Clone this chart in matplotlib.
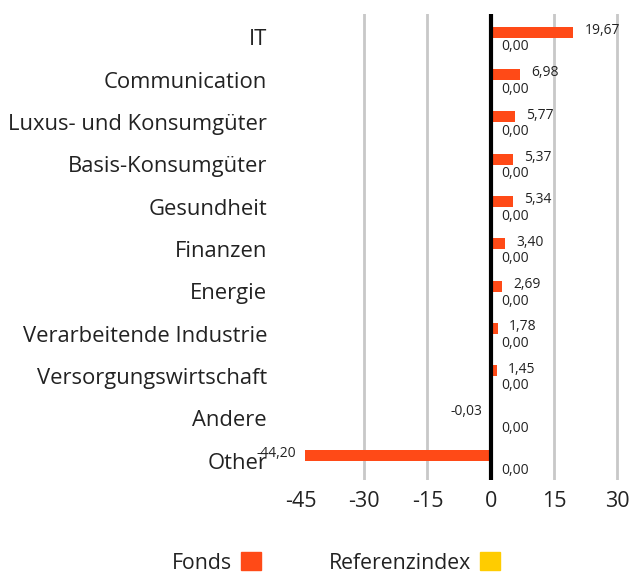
import numpy as np
import matplotlib.pyplot as plt
from matplotlib.patches import Patch

plt.rcParams['font.family'] = ['Open Sans', 'DejaVu Sans']

categories = ['IT', 'Communication', 'Luxus- und Konsumgüter', 'Basis-Konsumgüter',
              'Gesundheit', 'Finanzen', 'Energie', 'Verarbeitende Industrie',
              'Versorgungswirtschaft', 'Andere', 'Other']
fonds = [19.67, 6.98, 5.77, 5.37, 5.34, 3.40, 2.69, 1.78, 1.45, -0.03, -44.20]
referenz = [0.00] * 11
xticks = [-45, -30, -15, 0, 15, 30]

orange = '#FF4A17'
yellow = '#FFCC00'

fig = plt.figure(figsize=(6.3, 5.78), dpi=100)
ax = fig.add_axes([0.478, 0.17, 0.508, 0.806])

y = np.arange(len(categories))
ax.barh(y - 0.12, fonds, height=0.26, color=orange, zorder=3)
ax.barh(y + 0.15, referenz, height=0.26, color=yellow, zorder=3)

fmt = lambda v: f'{v:.2f}'.replace('.', ',')
for yi, v in zip(y, fonds):
    if v >= 0:
        ax.annotate(fmt(v), (v, yi - 0.16), xytext=(8, 0), textcoords='offset points',
                    ha='left', va='center', fontsize=10, color='#222222')
    else:
        ax.annotate(fmt(v), (v, yi - 0.16), xytext=(-6, 0), textcoords='offset points',
                    ha='right', va='center', fontsize=10, color='#222222')
for yi, v in zip(y, referenz):
    ax.annotate(fmt(v), (v, yi + 0.23), xytext=(8, 0), textcoords='offset points',
                ha='left', va='center', fontsize=10, color='#222222')

# grid lines and zero line
for t in xticks:
    if t not in (-45, 0):
        ax.axvline(t, color='#C8C8C8', lw=2, zorder=1)
ax.axvline(0, color='black', lw=3, zorder=4)

ax.set_xlim(-45, 31)
ax.set_ylim(10.45, -0.55)
ax.set_xticks(xticks)
ax.set_xticklabels([str(t) for t in xticks], fontsize=15.5, color='#222222')
ax.set_yticks(y)
ax.set_yticklabels(categories, fontsize=15.8, color='#222222')
ax.tick_params(axis='both', length=0)
ax.tick_params(axis='y', pad=24.5)
ax.tick_params(axis='x', pad=8)
for s in ax.spines.values():
    s.set_visible(False)

handles = [Patch(color=orange, label='Fonds'), Patch(color=yellow, label='Referenzindex')]
fig.legend(handles=handles, loc='center', bbox_to_anchor=(0.533, 0.026), ncol=2,
           frameon=False, markerfirst=False, fontsize=15.3, handlelength=0.94,
           handleheight=0.94, handletextpad=0.42, columnspacing=3.2, labelcolor='#222222')

fig.savefig('out.png', dpi=100)
